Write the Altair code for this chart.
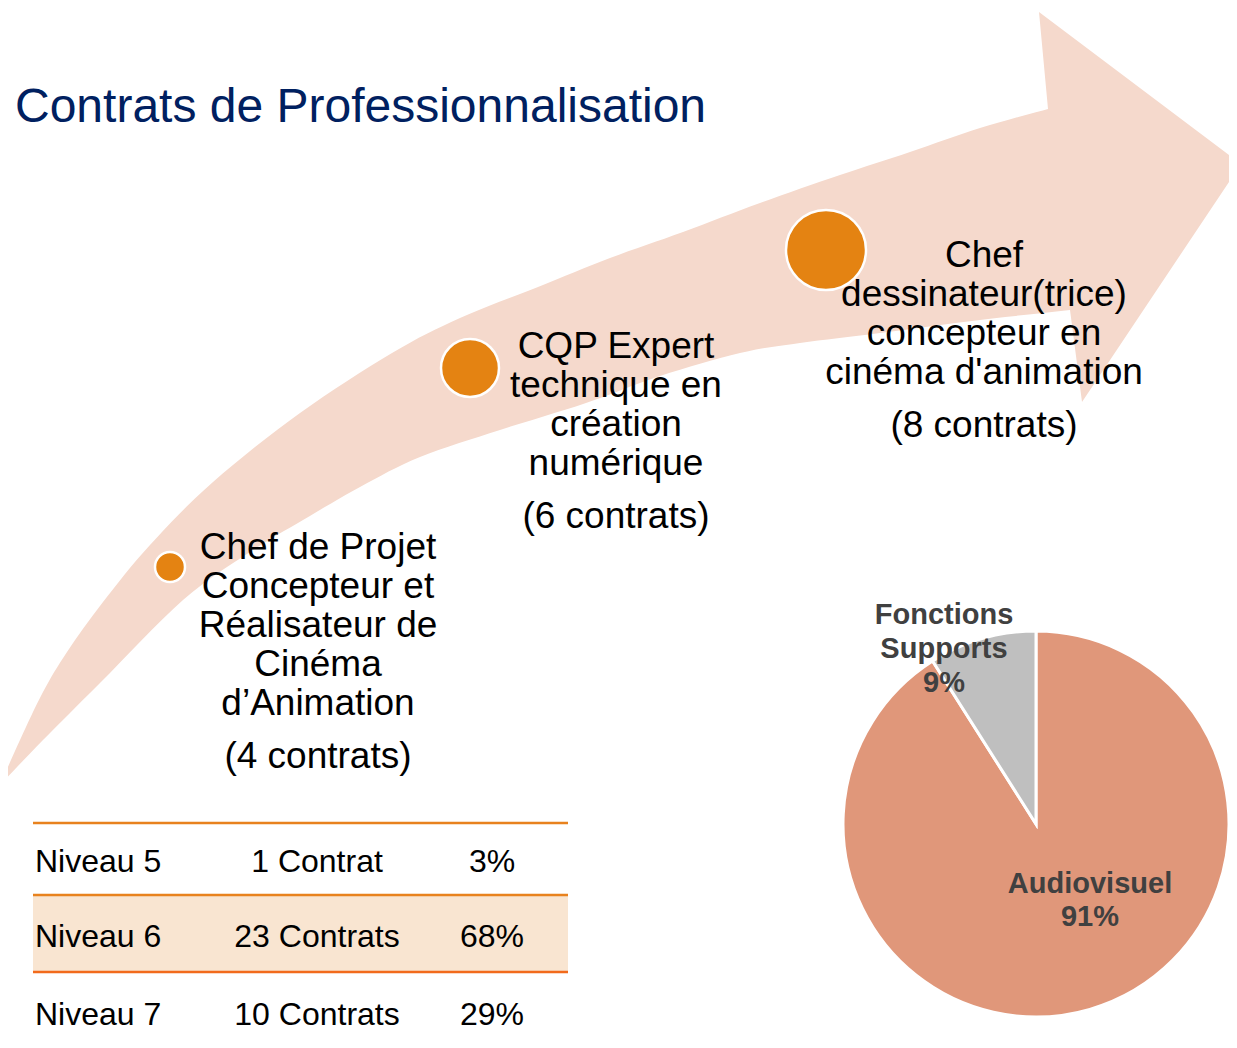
import altair as alt
import pandas as pd

# ---------------- DATA ----------------
titre = "Contrats de Professionnalisation"

diplome_lignes = [
    ["Chef de Projet", "Concepteur et", "Réalisateur de", "Cinéma", "d’Animation"],
    ["CQP Expert", "technique en", "création", "numérique"],
    ["Chef", "dessinateur(trice)", "concepteur en", "cinéma d'animation"],
]
diplome_contrats = [4, 6, 8]

niveaux = ["Niveau 5", "Niveau 6", "Niveau 7"]
niveau_contrats = [1, 23, 10]
niveau_parts = [3, 68, 29]

secteurs = ["Audiovisuel", "Fonctions Supports"]
secteur_parts = [91, 9]

# ---------------- LAYOUT (page pixels) ----------------
W, H, OFF = 1221, 1024, 8
FONT = "Liberation Sans"

# decorative arrow outline (upper edge, head, lower edge)
arrow_upper = [(0, 785), (20, 740), (43, 692), (67, 652), (103, 602), (150, 545),
               (213, 482), (300, 413), (392, 353), (460, 318), (538, 287), (610, 258),
               (683, 232), (760, 203), (840, 175), (910, 152), (980, 128), (1048, 109)]
arrow_head = [(1039, 12), (1241, 164), (1082, 402), (1070, 310)]
arrow_lower = [(1070, 310), (980, 320), (880, 333), (800, 343), (740, 353), (660, 376),
               (586, 403), (500, 430), (420, 457), (360, 487), (303, 520), (250, 552),
               (183, 600), (100, 683), (43, 740), (0, 785)]


def smooth(pts, steps=8):
    """Catmull-Rom densification of a decorative outline."""
    out = []
    n = len(pts)
    for i in range(n - 1):
        p0 = pts[max(i - 1, 0)]
        p1, p2 = pts[i], pts[i + 1]
        p3 = pts[min(i + 2, n - 1)]
        for s in range(steps):
            t = s / steps
            t2, t3 = t * t, t * t * t
            out.append(tuple(
                0.5 * (2 * p1[k] + (-p0[k] + p2[k]) * t
                       + (2 * p0[k] - 5 * p1[k] + 4 * p2[k] - p3[k]) * t2
                       + (-p0[k] + 3 * p1[k] - 3 * p2[k] + p3[k]) * t3)
                for k in range(2)))
    out.append(pts[-1])
    return out


circle_xy = [(170, 567), (470, 368), (826, 250)]
circle_r = [15, 29, 40]
label_cx = [318, 616, 984]
label_base = [559, 358, 267]
LINE_H, GAP = 39, 53

table_x0, table_x1 = 33, 568
table_lines_y = [823, 895, 972]
table_line_colors = ["#E8821E", "#E8821E", "#F26A1B"]
row_base = [872, 947, 1025]
col_x = [35, 317, 492]

pie_c, pie_r = (1036, 824), 193
pie_colors = ["#E0977A", "#BFBFBF"]

xs = alt.Scale(domain=[OFF, OFF + W], nice=False, zero=False)
ys = alt.Scale(domain=[OFF, OFF + H], nice=False, zero=False, reverse=True)

# ---------------- LAYERS ----------------
ring = smooth(arrow_upper) + arrow_head[:-1] + smooth(arrow_lower)
feature = {"type": "Feature", "properties": {},
           "geometry": {"type": "Polygon",
                        "coordinates": [[[round(p[0], 2), round(p[1], 2)] for p in ring]]}}
arrow = alt.Chart(alt.Data(values=[feature])).mark_geoshape(
    fill="#F5D9CC", stroke=None, strokeWidth=0
).project(type="identity", scale=1, translate=[-OFF, -OFF])

circ_df = pd.DataFrame({
    "px": [c[0] for c in circle_xy], "py": [c[1] for c in circle_xy],
    "aire": [4 * r * r for r in circle_r], "contrats": diplome_contrats,
})
circles = alt.Chart(circ_df).mark_circle(
    color="#E48312", opacity=1, stroke="white", strokeWidth=2.5
).encode(
    x=alt.X("px:Q", scale=xs, axis=None),
    y=alt.Y("py:Q", scale=ys, axis=None),
    size=alt.Size("aire:Q", scale=None, legend=None),
)


def text_layer(rows, size, color="black", weight="normal", align="center"):
    df = pd.DataFrame(rows, columns=["t", "px", "py"])
    return alt.Chart(df).mark_text(
        font=FONT, fontSize=size, color=color, fontWeight=weight,
        align=align, baseline="alphabetic"
    ).encode(
        x=alt.X("px:Q", scale=xs, axis=None),
        y=alt.Y("py:Q", scale=ys, axis=None),
        text="t:N",
    )


title = text_layer([(titre, 15, 122)], 48, color="#002060", align="left")

lab_rows = []
for i, lines in enumerate(diplome_lignes):
    for j, ln in enumerate(lines):
        lab_rows.append((ln, label_cx[i], label_base[i] + j * LINE_H))
    lab_rows.append((f"({diplome_contrats[i]} contrats)", label_cx[i],
                     label_base[i] + (len(lines) - 1) * LINE_H + GAP))
labels = text_layer(lab_rows, 37)

band = alt.Chart(pd.DataFrame({"x0": [table_x0], "x1": [table_x1],
                               "y0": [table_lines_y[1]], "y1": [table_lines_y[2]]})).mark_rect(
    color="#F9E5D1"
).encode(
    x=alt.X("x0:Q", scale=xs, axis=None), x2="x1:Q",
    y=alt.Y("y0:Q", scale=ys, axis=None), y2="y1:Q",
)

rules = alt.Chart(pd.DataFrame({"x0": [table_x0] * 3, "x1": [table_x1] * 3,
                                "y0": table_lines_y, "c": table_line_colors})).mark_rule(
    strokeWidth=2.5
).encode(
    x=alt.X("x0:Q", scale=xs, axis=None), x2="x1:Q",
    y=alt.Y("y0:Q", scale=ys, axis=None),
    color=alt.Color("c:N", scale=None, legend=None),
)

col1 = text_layer([(n, col_x[0], row_base[k]) for k, n in enumerate(niveaux)], 32, align="left")
col2 = text_layer([(f"{c} Contrat" + ("s" if c > 1 else ""), col_x[1], row_base[k])
                   for k, c in enumerate(niveau_contrats)], 32)
col3 = text_layer([(f"{p}%", col_x[2], row_base[k]) for k, p in enumerate(niveau_parts)], 32)

pie_df = pd.DataFrame({"secteur": secteurs, "part": secteur_parts, "ordre": [0, 1]})
pie = alt.Chart(pie_df).mark_arc(
    radius=pie_r, stroke="white", strokeWidth=3
).encode(
    theta=alt.Theta("part:Q", stack=True),
    order=alt.Order("ordre:Q"),
    color=alt.Color("secteur:N", scale=alt.Scale(domain=secteurs, range=pie_colors), legend=None),
    x=alt.value(pie_c[0] - OFF),
    y=alt.value(pie_c[1] - OFF),
)

pie_lab_rows = [
    ("Audiovisuel", 1090, 893), (f"{secteur_parts[0]}%", 1090, 926),
    ("Fonctions", 944, 624), ("Supports", 944, 658), (f"{secteur_parts[1]}%", 944, 692),
]
pie_labels = text_layer(pie_lab_rows, 29, color="#404040", weight="bold")

chart = alt.layer(
    arrow, circles, title, labels, band, rules, col1, col2, col3, pie, pie_labels
).properties(
    width=W, height=H, padding=0, autosize=alt.AutoSizeParams(type="none"),
    background="white",
).configure_view(stroke=None)

chart.save("out.html", embed_options={"renderer": "svg", "actions": False})
